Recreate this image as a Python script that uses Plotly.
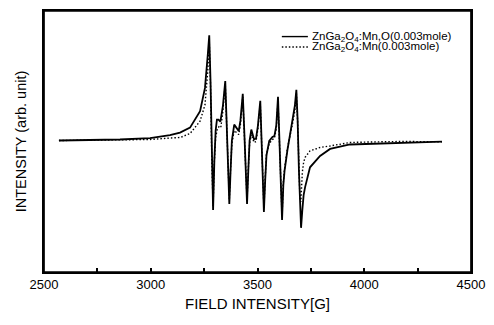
import plotly.graph_objects as go

field_solid = [2570, 2856, 2997, 3090, 3137, 3184, 3231, 3254, 3267, 3274, 3280, 3286, 3292, 3298, 3304,
               3310, 3317, 3326, 3338, 3349, 3356, 3362, 3368, 3374, 3380, 3391, 3405, 3412, 3420, 3431,
               3438, 3445, 3451, 3457, 3463, 3471, 3484, 3493, 3502, 3513, 3519, 3525, 3530, 3536, 3542,
               3555, 3570, 3579, 3588, 3596, 3603, 3609, 3615, 3621, 3627, 3640, 3652, 3665, 3675, 3682,
               3688, 3694, 3699, 3704, 3710, 3716, 3723, 3746, 3793, 3840, 3933, 4027, 4168, 4364]
int_solid = [0, 1, 2.5, 5.5, 8, 13, 29.5, 53, 86, 106, 60, -20, -70, -20, 10,
             21, 21, 19, 35, 60, 20, -30, -64, -30, 0, 16, 12, 9.5, 20, 47,
             10, -40, -64, -30, 0, 11, 1, 2, 15, 40, 5, -40, -72, -40, -15,
             -0.5, 3.5, 4.5, 15, 44, 5, -40, -80, -45, -30, -10, 4.5, 22, 35, 51,
             20, -30, -70, -88, -70, -55, -47, -27, -15.5, -8.5, -4, -3.5, -2, -1.2]

field_dot = [2570, 2856, 2997, 3090, 3137, 3184, 3231, 3254, 3267, 3274, 3280, 3286, 3292, 3298, 3304,
             3312, 3320, 3328, 3338, 3349, 3356, 3362, 3368, 3374, 3380, 3391, 3405, 3412, 3420, 3431,
             3438, 3445, 3451, 3457, 3463, 3471, 3484, 3493, 3502, 3513, 3519, 3525, 3530, 3536, 3542,
             3555, 3570, 3579, 3588, 3596, 3603, 3609, 3615, 3621, 3627, 3640, 3652, 3665, 3675, 3682,
             3688, 3694, 3699, 3703, 3710, 3716, 3723, 3746, 3793, 3840, 3933, 4027, 4168, 4364]
int_dot = [0, 0.5, 1, 2.5, 3, 7, 19.5, 36, 70, 100, 55, -20, -66, -20, 3,
           12, 14, 13, 30, 57, 18, -30, -60, -28, -3, 10, 7, 6, 16, 44,
           8, -40, -60, -28, -3, 6, -2, -1, 12, 37, 3, -40, -68, -38, -14,
           -3, 1, 2, 12, 40, 3, -40, -76, -42, -28, -8, 3, 18, 30, 48,
           18, -30, -60, -62, -32, -22, -17, -10.5, -7, -5.5, -2, -1.5, -1, -1.2]

legend_labels = ["ZnGa<sub>2</sub>O<sub>4</sub>:Mn,O(0.003mole)",
                 "ZnGa<sub>2</sub>O<sub>4</sub>:Mn(0.003mole)"]
x_tick_vals = [2500, 2750, 3000, 3250, 3500, 3750, 4000, 4250, 4500]
x_tick_text = ["2500", " ", "3000", " ", "3500", " ", "4000", " ", "4500"]

FONT = "Liberation Sans, Arial, sans-serif"
INK = "black"
DOT = "1.5px,2px"

fig = go.Figure()
fig.add_trace(go.Scatter(x=field_dot, y=int_dot, mode="lines",
                         line=dict(color=INK, width=1.4, dash=DOT), showlegend=False))
fig.add_trace(go.Scatter(x=field_solid, y=int_solid, mode="lines",
                         line=dict(color=INK, width=1.8), showlegend=False))

# frame around plot area
fig.add_shape(type="rect", xref="paper", yref="paper", x0=0, x1=1, y0=0, y1=1,
              line=dict(color=INK, width=1.7), layer="above")

# compact legend
leg_y = [0.902, 0.862]
dashes = ["solid", DOT]
for yy, lab, dsh in zip(leg_y, legend_labels, dashes):
    fig.add_shape(type="line", xref="paper", yref="paper", x0=0.557, x1=0.618, y0=yy, y1=yy,
                  line=dict(color=INK, width=1.4, dash=dsh))
    fig.add_annotation(xref="paper", yref="paper", x=0.623, y=yy, text=lab, showarrow=False,
                       xanchor="left", yanchor="middle", font=dict(family=FONT, size=11.5, color=INK))

fig.update_layout(
    width=494, height=325,
    margin=dict(l=44, r=23, t=9, b=53),
    paper_bgcolor="white", plot_bgcolor="white",
    font=dict(family=FONT, color=INK),
    showlegend=False,
)
fig.update_xaxes(range=[2500, 4500], tickvals=x_tick_vals, ticktext=x_tick_text,
                 ticks="inside", ticklen=4, tickcolor=INK, tickwidth=1.5,
                 showgrid=False, zeroline=False,
                 showline=True, linecolor=INK, linewidth=1.7, mirror=True,
                 tickfont=dict(family=FONT, size=13, color=INK),
                 title=dict(text="FIELD INTENSITY[G]", font=dict(family=FONT, size=15, color=INK),
                            standoff=7))
fig.update_yaxes(range=[-132.5, 130.5], showticklabels=False, ticks="", showgrid=False,
                 zeroline=False, showline=True, linecolor=INK, linewidth=1.7, mirror=True,
                 title=dict(text="INTENSITY (arb. unit)", font=dict(family=FONT, size=14.5, color=INK),
                            standoff=12))

fig.write_html("out.html", config={"displayModeBar": False},
               post_script="document.body.style.margin='0';document.body.style.padding='0';")
